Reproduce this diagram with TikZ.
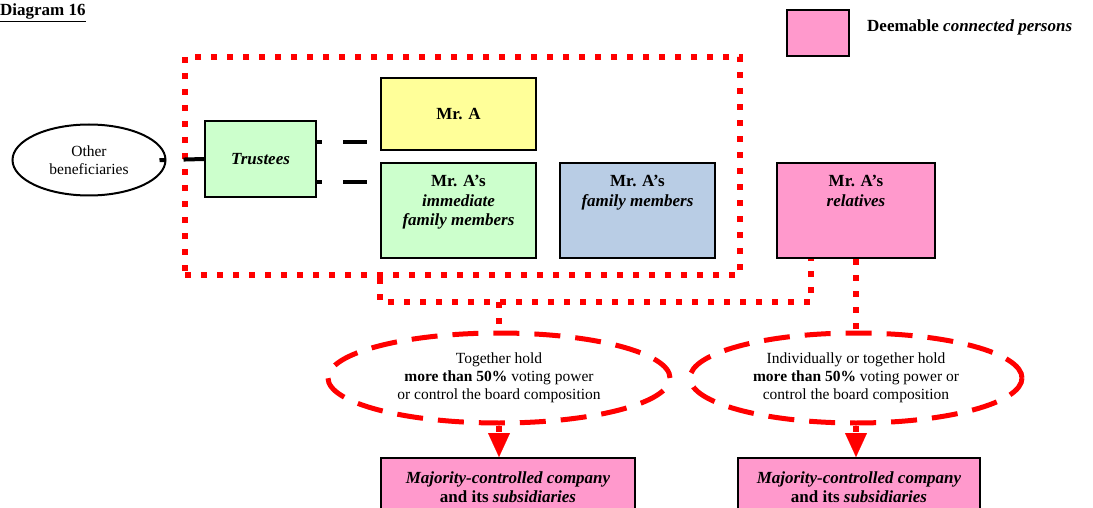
\documentclass[tikz,border=0pt]{standalone}
\usepackage{fontspec}
\setmainfont{Liberation Serif}
\usetikzlibrary{arrows.meta,shapes.geometric}
\definecolor{mayellow}{HTML}{FFFF99}
\definecolor{magreen}{HTML}{CCFFCC}
\definecolor{mablue}{HTML}{B9CDE5}
\definecolor{mapink}{HTML}{FF99CC}
\newcommand{\bigtxt}{\fontsize{17}{19.5}\selectfont}
\newcommand{\smalltxt}{\fontsize{15.5}{18}\selectfont}

\begin{document}
\begin{tikzpicture}[x=1pt, y=-1pt,
	pbox/.style={draw, line width=2pt, rectangle, inner sep=0pt, align=center, font=\bigtxt\bfseries},
	toptext/.style={anchor=north, inner sep=0pt, yshift=-13pt, align=center, font=\bigtxt\bfseries},
	tie/.style={line width=4pt, dash pattern=on 5pt off 21pt on 24pt off 40pt},
	dotline/.style={red, line width=6pt, dash pattern=on 6pt off 10pt},
	grpbox/.style={draw=red, line width=6pt, dash pattern=on 6pt off 10pt, inner sep=0pt},
	dashring/.style={draw=red, ellipse, line width=5pt, dash pattern=on 26pt off 15pt, inner sep=0pt, align=center, font=\smalltxt}]

	\useasboundingbox (0,0) rectangle (1093,508);
	\clip (0,0) rectangle (1093,508);

	\node[anchor=base west, inner sep=0pt, font=\bigtxt\bfseries] (title) at (0,16) {\underline{Diagram 16}};
	\node[pbox, fill=mapink, minimum width=62pt, minimum height=46pt] (key) at (818,33) {};
	\node[anchor=base west, inner sep=0pt, font=\bigtxt\bfseries] (keytext) at (867,32) {Deemable \textit{connected persons}};

	\node[grpbox, minimum width=555pt, minimum height=218pt] (grp) at (462.5,166) {};

	\node[draw, ellipse, line width=2pt, minimum width=153pt, minimum height=71pt, inner sep=0pt, align=center, font=\smalltxt] (ob) at (89,160) {Other\\beneficiaries};
	\node[pbox, fill=magreen, minimum width=111pt, minimum height=76pt] (trustees) at (260.5,159) {\textit{Trustees}};
	\node[pbox, fill=mayellow, minimum width=155pt, minimum height=72pt] (mra) at (458.5,114) {Mr. A};
	\node[pbox, fill=magreen, minimum width=155pt, minimum height=95pt, label={[toptext]north:{Mr. A's\\\textit{immediate}\\\textit{family members}}}] (imm) at (458.5,210.5) {};
	\node[pbox, fill=mablue, minimum width=155pt, minimum height=95pt, label={[toptext]north:{Mr. A's\\\textit{family members}}}] (fam) at (637.5,210.5) {};
	\node[pbox, fill=mapink, minimum width=158pt, minimum height=95pt, label={[toptext]north:{Mr. A's\\\textit{relatives}}}] (rel) at (856,210.5) {};

	\draw[line width=4pt, dash pattern=on 6pt off 18pt on 30pt, shorten <=-7pt] (ob.east) -- (trustees.west);
	\draw[tie] ([yshift=17pt]trustees.east) coordinate (t1) -- (t1 -| mra.west);
	\draw[tie] ([yshift=-23pt]trustees.east) coordinate (t2) -- (t2 -| imm.west);

	\node[dashring, minimum width=342pt, minimum height=90pt] (e1) at (499,378) {Together hold\\\textbf{more than 50\%} voting power\\or control the board composition};
	\node[dashring, minimum width=332pt, minimum height=90pt] (e2) at (856,378) {Individually or together hold\\\textbf{more than 50\%} voting power or\\control the board composition};

	\coordinate (jn) at (811,302);
	\draw[dotline] (imm.west |- grp.south) |- (jn) -- (jn |- rel.south);
	\draw[dotline] (e1.north |- jn) -- (e1.north);
	\draw[dotline] (rel.south) -- (e2.north);

	\node[pbox, fill=mapink, minimum width=254pt, minimum height=58pt] (mc1) at (508,487) {\textit{Majority-controlled company}\\and its \textit{subsidiaries}};
	\node[pbox, fill=mapink, minimum width=242pt, minimum height=58pt] (mc2) at (859,487) {\textit{Majority-controlled company}\\and its \textit{subsidiaries}};

	\draw[dotline, -{Triangle[width=22pt, length=24pt, line width=0.1pt]}] (e1.south) -- (e1.south |- mc1.north);
	\draw[dotline, -{Triangle[width=22pt, length=24pt, line width=0.1pt]}] (e2.south) -- (e2.south |- mc2.north);
\end{tikzpicture}
\end{document}
